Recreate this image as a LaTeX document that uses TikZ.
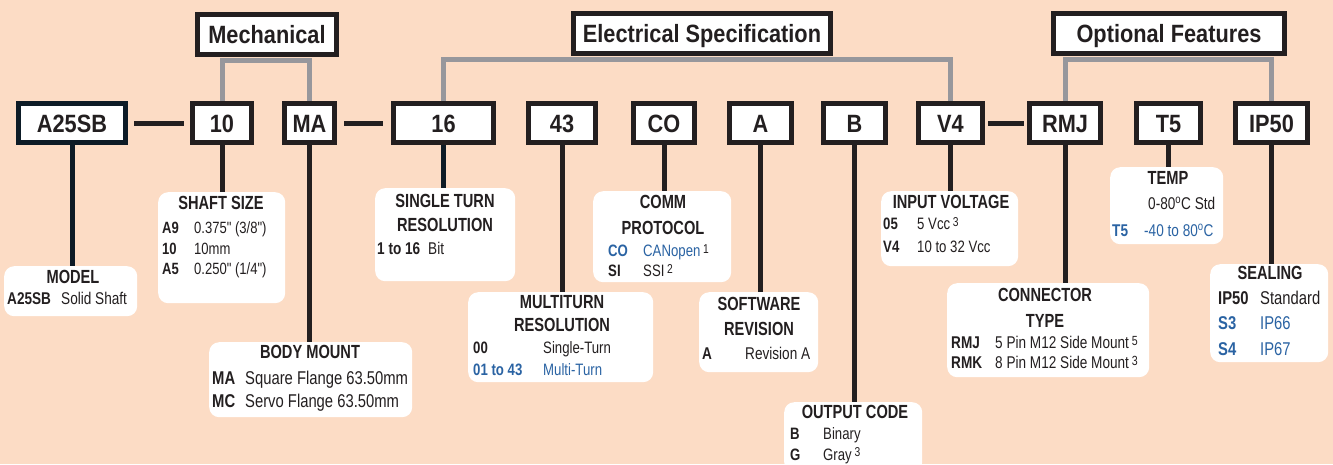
\documentclass[tikz,border=0pt]{standalone}
\usepackage{fontspec}
\newfontfamily\hdfont{Liberation Sans}[FakeStretch=0.87]
\newfontfamily\ttlfont{Liberation Sans}[FakeStretch=0.77]
\newfontfamily\lblfont{Liberation Sans}[FakeStretch=0.8]
\usepackage{graphicx}
\usepackage{xcolor}
\usepackage{tikz}

\definecolor{bgpeach}{HTML}{FCDCC5}
\definecolor{ink}{HTML}{231F20}
\definecolor{navy}{HTML}{0D1B26}
\definecolor{optblue}{HTML}{2A63A3}
\definecolor{grpgray}{HTML}{97979C}

% code column of the option lists, and footnote marks
\newcommand\optcode[2]{\makebox[#1][l]{\bfseries #2}}
\newcommand\fnmark[1]{\,\raisebox{0.4ex}{\scalebox{0.78}{#1}}}

\begin{document}
\begin{tikzpicture}[
  x=1pt, y=-1pt,
  code/.style={draw=ink, line width=5pt, fill=white, text=ink, inner sep=0pt,
    minimum height=39pt, text height=18pt, text depth=0pt,
    font=\hdfont\bfseries\fontsize{25}{30}\selectfont},
  grpbox/.style={code, minimum height=40pt},
  lbl/.style={fill=white, rounded corners=10pt, inner sep=0pt, anchor=north west},
  ttl/.style={text=ink, inner sep=0pt, anchor=north, align=center,
    font=\ttlfont\bfseries\fontsize{19}{#1}\selectfont},
  ttl/.default=25,
  rows/.style 2 args={text=ink, inner sep=0pt, anchor=north west, align=left,
    font=\lblfont\fontsize{#1}{#2}\selectfont},
  link/.style={draw=ink, line width=5pt, shorten <=6pt, shorten >=6pt},
  drop/.style={draw=ink, line width=5pt},
  grp/.style={draw=grpgray, line width=5pt}
]
\fill[bgpeach] (0,0) rectangle (1333,464);
\useasboundingbox (0,0) rectangle (1333,464);

% label boxes
\node[lbl, minimum width=133pt, minimum height=50pt] (model) at (4,266) {};
\node[lbl, minimum width=127pt, minimum height=111pt] (shaft) at (158,192) {};
\node[lbl, minimum width=203pt, minimum height=75pt] (mount) at (209,342) {};
\node[lbl, minimum width=140pt, minimum height=93pt] (stres) at (375,188) {};
\node[lbl, minimum width=185pt, minimum height=90pt] (mtres) at (468,292) {};
\node[lbl, minimum width=138pt, minimum height=91pt] (comm) at (593,191) {};
\node[lbl, minimum width=119pt, minimum height=80pt] (softrev) at (699,292) {};
\node[lbl, minimum width=138pt, minimum height=70pt] (outcode) at (784,402) {};
\node[lbl, minimum width=137pt, minimum height=75pt] (involt) at (881,191) {};
\node[lbl, minimum width=202pt, minimum height=94pt] (conn) at (947,283) {};
\node[lbl, minimum width=113pt, minimum height=77pt] (temp) at (1110,167) {};
\node[lbl, minimum width=118pt, minimum height=98pt] (seal) at (1210,264) {};

% titles
\node[ttl] (modelT) at (73,270) {MODEL};
\node[ttl] (shaftT) at (221,196) {SHAFT SIZE};
\node[ttl] (mountT) at (310,345) {BODY MOUNT};
\node[ttl=24] (stresT) at (445,194) {SINGLE TURN\\RESOLUTION};
\node[ttl=23] (mtresT) at (562,295) {MULTITURN\\RESOLUTION};
\node[ttl=26] (commT) at (663,195) {COMM\\PROTOCOL};
\node[ttl=25] (softT) at (759,297) {SOFTWARE\\REVISION};
\node[ttl] (outT) at (855,405) {OUTPUT CODE};
\node[ttl] (voltT) at (951,195) {INPUT VOLTAGE};
\node[ttl=26] (connT) at (1045,288) {CONNECTOR\\TYPE};
\node[ttl] (tempT) at (1168,171) {TEMP};
\node[ttl] (sealT) at (1270,266) {SEALING};

% option lists
\node[rows={17}{20}] (modelR) at (7,292) {\optcode{54pt}{A25SB}Solid Shaft};
\node[rows={16.3}{20.5}] (shaftR) at (162,221.5)
  {\optcode{32pt}{A9}0.375" (3/8")\\ \optcode{32pt}{10}10mm\\ \optcode{32pt}{A5}0.250" (1/4")};
\node[rows={18.5}{23}] (mountR) at (212,370.5)
  {\optcode{33pt}{MA}Square Flange 63.50mm\\ \optcode{33pt}{MC}Servo Flange 63.50mm};
\node[rows={17}{20}] (stresR) at (377,242) {\optcode{51pt}{1 to 16}Bit};
\node[rows={16.5}{22}] (mtresR) at (473,341)
  {\optcode{70pt}{00}Single-Turn\\ {\color{optblue}\optcode{70pt}{01 to 43}Multi-Turn}};
\node[rows={16.5}{20}] (commR) at (608,244)
  {{\color{optblue}\optcode{35pt}{CO}CANopen}\fnmark{1}\\ \optcode{35pt}{SI}SSI\fnmark{2}};
\node[rows={17}{20}] (softR) at (702,347) {\optcode{43pt}{A}Revision A};
\node[rows={16.5}{21}] (outR) at (790,427)
  {\optcode{33pt}{B}Binary\\ \optcode{33pt}{G}Gray\fnmark{3}};
\node[rows={16.5}{23}] (voltR) at (883,217)
  {\optcode{34pt}{05}5 Vcc\fnmark{3}\\ \optcode{34pt}{V4}10 to 32 Vcc};
\node[rows={17}{20}] (connR) at (951,336)
  {\optcode{44pt}{RMJ}5 Pin M12 Side Mount\fnmark{5}\\ \optcode{44pt}{RMK}8 Pin M12 Side Mount\fnmark{3}};
\node[rows={17}{27}] (tempR) at (1112,197)
  {\optcode{36pt}{}0-80\textsuperscript{o}C Std\\ {\color{optblue}\optcode{32pt}{T5}-40 to 80\textsuperscript{o}C}};
\node[rows={18.5}{25.5}] (sealR) at (1218,290.5)
  {\optcode{42pt}{IP50}Standard\\ {\color{optblue}\optcode{42pt}{S3}IP66}\\ {\color{optblue}\optcode{42pt}{S4}IP67}};

% part number codes
\node[code, draw=navy, minimum width=107pt] (cmodel) at (72,123) {A25SB};
\node[code, minimum width=59pt] (cshaft) at (222,123) {10};
\node[code, minimum width=50pt] (cmount) at (309.5,123) {MA};
\node[code, minimum width=100pt] (cstres) at (443.5,123) {16};
\node[code, minimum width=67pt] (cmtres) at (562,123) {43};
\node[code, minimum width=61pt] (ccomm) at (664,123) {CO};
\node[code, minimum width=62pt] (csoft) at (760.5,123) {A};
\node[code, minimum width=62pt] (cout) at (854.5,123) {B};
\node[code, minimum width=64pt] (cvolt) at (950.5,123) {V4};
\node[code, minimum width=71pt] (cconn) at (1065,123) {RMJ};
\node[code, minimum width=64pt] (ctemp) at (1168.5,123) {T5};
\node[code, minimum width=72pt] (cseal) at (1271.5,123) {IP50};

% groups
\node[grpbox, minimum width=139pt] (mech) at (267,34.5) {Mechanical};
\node[grpbox, minimum width=257pt] (elec) at (702,33.5) {Electrical Specification};
\node[grpbox, minimum width=231pt] (optf) at (1169,33.5) {Optional Features};

\draw[grp] (cshaft.north) |- ([yshift=-3pt]mech.south) -| (cmount.north);
\draw[grp] (cstres.north) |- ([yshift=-3pt]elec.south) -| (cvolt.north);
\draw[grp] (cconn.north) |- ([yshift=-3pt]optf.south) -| (cseal.north);

\draw[link] (cmodel) -- (cshaft);
\draw[link, shorten <=7pt, shorten >=8pt] (cmount) -- (cstres);
\draw[link, shorten <=3pt, shorten >=3pt] (cvolt) -- (cconn);

\draw[drop, draw=navy] (cmodel.south) -- (cmodel.south |- model.north);
\draw[drop] (cshaft.south) -- (cshaft.south |- shaft.north);
\draw[drop] (cmount.south) -- (cmount.south |- mount.north);
\draw[drop, draw=navy] (cstres.south) -- (cstres.south |- stres.north);
\draw[drop] (cmtres.south) -- (cmtres.south |- mtres.north);
\draw[drop] (ccomm.south) -- (ccomm.south |- comm.north);
\draw[drop] (csoft.south) -- (csoft.south |- softrev.north);
\draw[drop] (cout.south) -- (cout.south |- outcode.north);
\draw[drop] (cvolt.south) -- (cvolt.south |- involt.north);
\draw[drop] (cconn.south) -- (cconn.south |- conn.north);
\draw[drop] (ctemp.south) -- (ctemp.south |- temp.north);
\draw[drop] (cseal.south) -- (cseal.south |- seal.north);
\end{tikzpicture}
\end{document}
